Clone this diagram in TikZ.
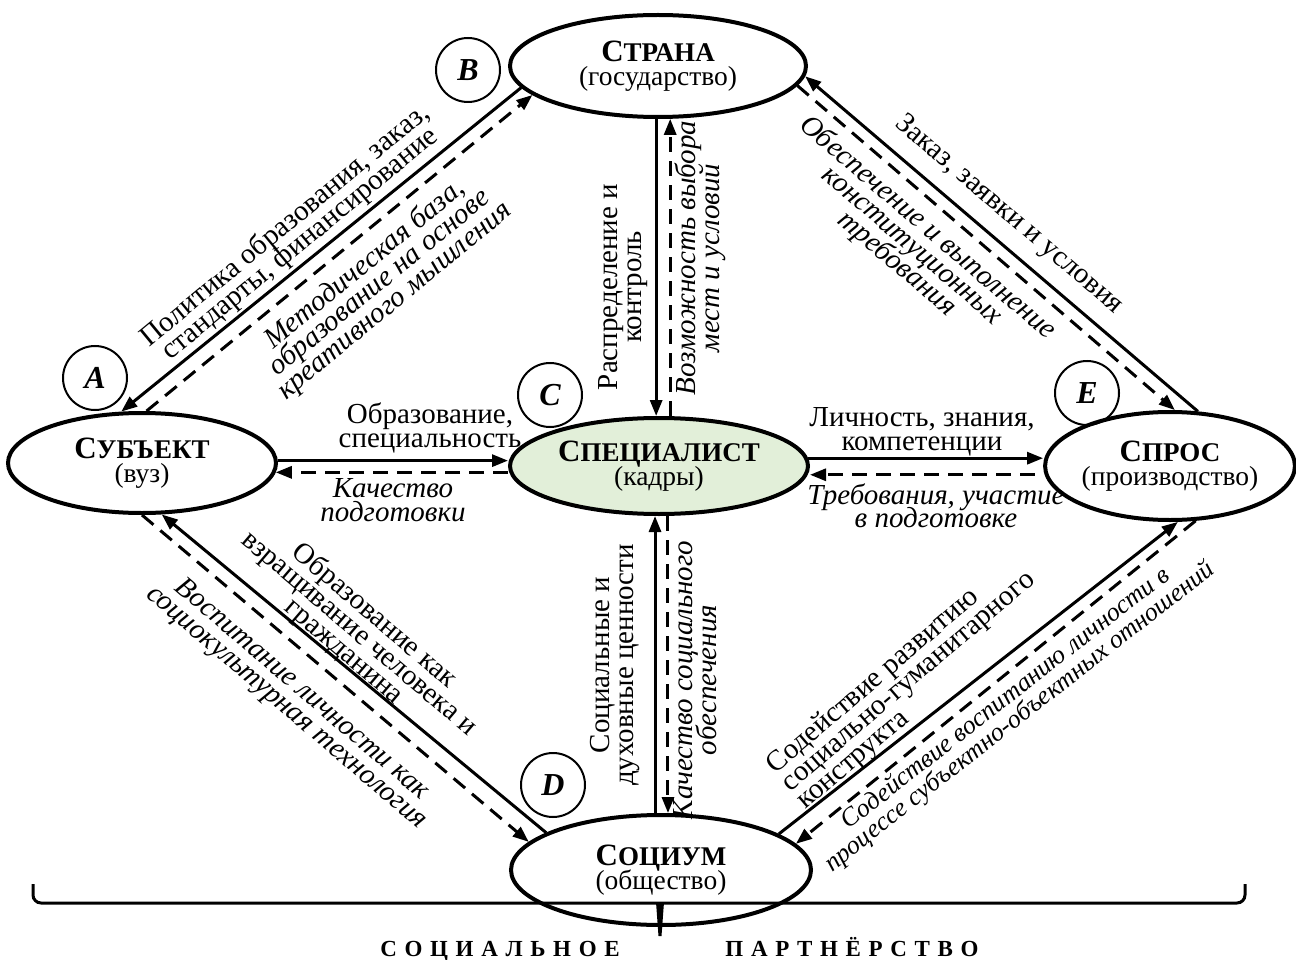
\documentclass[tikz,border=0pt]{standalone}
\usepackage{fontspec}
\setmainfont{Liberation Serif}
\usetikzlibrary{arrows.meta,shapes.geometric}
\definecolor{specfill}{HTML}{E2EFD9}
\lineskiplimit=-100pt
\newcommand{\capw}[2]{{\bfseries\fontsize{31}{24}\selectfont #1\fontsize{27}{24}\selectfont #2}}
\newcommand{\subw}[1]{{\fontsize{27.5}{24}\selectfont #1}}
\begin{document}
\begin{tikzpicture}[x=1pt,y=-1pt,
  ell/.style={ellipse, draw=black, line width=4pt, inner sep=0pt, align=center,
    font=\fontsize{27.5}{24}\selectfont},
  lbl/.style={align=center, inner sep=0pt, font=\fontsize{29}{23.5}\selectfont},
  ilbl/.style={align=center, inner sep=0pt, font=\fontsize{29}{23.5}\selectfont\itshape},
  sol/.style={line width=3pt, -{Triangle[length=16pt,width=12pt]}},
  dsh/.style={sol, dash pattern=on 15pt off 9pt},
  tagc/.style={circle, draw=black, line width=2pt, minimum size=64pt, inner sep=0pt,
    font=\fontsize{32}{32}\selectfont\bfseries\itshape},
  partner/.style={inner sep=0pt, anchor=base, font=\fontsize{23}{23}\selectfont\bfseries}]
\fill[white] (0,0) rectangle (1296,960);
\useasboundingbox (0,0) rectangle (1296,960);

% ellipses
\node[ell, minimum width=296pt, minimum height=102pt] (strana) at (658,66)
  {\capw{С}{ТРАНА}\\\subw{(государство)}};
\node[ell, minimum width=268pt, minimum height=100pt] (subj) at (142,463)
  {\capw{С}{УБЪЕКТ}\\\subw{(вуз)}};
\node[ell, fill=specfill, minimum width=298pt, minimum height=96pt] (spec) at (659,466)
  {\capw{С}{ПЕЦИАЛИСТ}\\\subw{(кадры)}};
\node[ell, minimum width=242pt, minimum height=108pt] (spros) at (1170,466)
  {\capw{С}{ПРОС}\\\subw{(производство)}};
\node[ell, minimum width=300pt, minimum height=110pt] (soc) at (661,870)
  {\capw{С}{ОЦИУМ}\\\subw{(общество)}};

% letter circles
\node[tagc] (ta) at (95,378) {A};
\node[tagc] (tb) at (468,70) {B};
\node[tagc] (tc) at (550,395) {C};
\node[tagc] (td) at (553,785) {D};
\node[tagc] (te) at (1087,393) {E};

% connectors Strana - Subject
\draw[sol] (strana.189) -- (subj.112);
\draw[dsh] (subj.85) -- (strana.193);
% Strana - Specialist
\draw[sol] (strana.268) -- (strana.268 |- spec.north);
\draw[dsh] (spec.north -| strana.283) -- (strana.283);
% Spros - Strana
\draw[sol] (spros.63) -- (strana.356.5);
\draw[dsh] (strana.352) -- (spros.85);
% Subject - Specialist
\draw[sol] (subj.1.7) -- (subj.1.7 -| spec.west);
\draw[dsh] (spec.west |- subj.356) -- (subj.356);
% Specialist - Spros
\draw[sol] (spec.3.5) -- (spec.3.5 -| spros.west);
\draw[dsh, shorten <=10pt] (spros.184) -- (spros.184 -| spec.east);
% Socium - Subject
\draw[sol] (soc.162) -- (subj.291);
\draw[dsh] (subj.270) -- (soc.168);
% Socium - Specialist
\draw[sol] (soc.96) -- (soc.96 |- spec.south);
\draw[dsh] (soc.83 |- spec.south) -- (soc.83);
% Socium - Spros
\draw[sol] (soc.17) -- (spros.278);
\draw[dsh] (spros.295) -- (soc.11.6);

% labels
\node[lbl, rotate=39.5] (l1) at (293,235) {Политика образования, заказ,\\стандарты, финансирование};
\node[ilbl, rotate=39.5] (l2) at (380,283) {Методическая база,\\образование на основе\\креативного мышления};
\node[lbl, rotate=90] (l3) at (623,287) {Распределение и\\контроль};
\node[ilbl, rotate=90] (l4) at (700,258) {Возможность выбора\\мест и условий};
\node[lbl, rotate=-40.5] (l5) at (1009,215) {Заказ, заявки и условия};
\node[ilbl, rotate=-40.5] (l6) at (912,246) {Обеспечение и выполнение\\конституционных\\требования};
\node[lbl] (l7) at (430,428) {Образование,\\специальность};
\node[ilbl] (l8) at (393,500) {Качество\\подготовки};
\node[lbl] (l9) at (922,432) {Личность, знания,\\компетенции};
\node[ilbl] (l10) at (936,506) {Требования, участие\\в подготовке};
\node[lbl, rotate=-40.5] (l11) at (359,634) {Образование как\\взращивание человека и\\гражданина};
\node[ilbl, rotate=-40.5] (l12) at (294,699) {Воспитание личности как\\социокультурная технология};
\node[lbl, rotate=90] (l13) at (615,665) {Социальные и\\духовные ценности};
\node[ilbl, rotate=90] (l14) at (695,680) {Качество социального\\обеспечения};
\node[lbl, rotate=40.5, align=left] (l15) at (909,682) {Содействие развитию\\социально-гуманитарного\\конструкта};
\node[ilbl, rotate=38, font=\fontsize{26}{23}\selectfont\itshape] (l16) at (1013,708) {Содействие воспитанию личности в\\процессе субъектно-объектных отношений};

% brace
\coordinate (bl) at (33,884);
\coordinate (br) at (1245,884);
\coordinate (bm) at (660,903);
\draw[line width=3pt, rounded corners=8pt] (bl) |- (bm) -| (br);
\fill (656,902) -- (664,902) -- (661.5,936) -- (658.5,936) -- cycle;
\node[partner] (sp1) at (500,956) {С\,\,О\,\,Ц\,\,И\,\,А\,\,Л\,\,Ь\,\,Н\,\,О\,\,Е};
\node[partner] (sp2) at (852,956) {П\,\,А\,\,Р\,\,Т\,\,Н\,\,Ё\,\,Р\,\,С\,\,Т\,\,В\,\,О};
\end{tikzpicture}
\end{document}
